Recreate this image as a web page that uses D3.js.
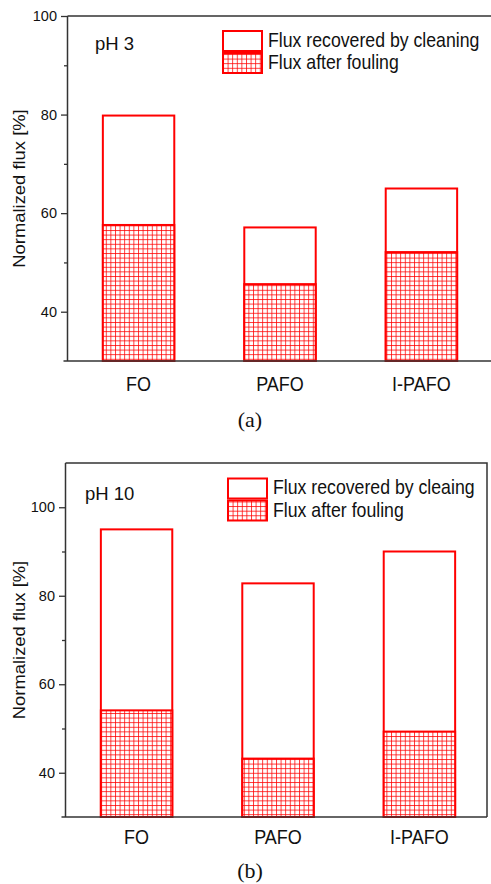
<!DOCTYPE html>
<html>
<head>
<meta charset="utf-8">
<script src="https://cdn.jsdelivr.net/npm/d3@7"></script>
<style>
  body { margin: 0; background: #fff; }
  text { font-family: "Liberation Sans", Arial, sans-serif; fill: #111; }
</style>
</head>
<body>
<svg id="chart" width="491" height="884"></svg>
<script>
// values
const categories = ["FO", "PAFO", "I-PAFO"];
const recoveredA = [79.8, 57.1, 65.0];
const foulingA = [57.6, 45.6, 52.1];
const recoveredB = [95.0, 82.8, 90.0];
const foulingB = [54.1, 43.2, 49.3];
const legendA = ["Flux recovered by cleaning", "Flux after fouling"];
const legendB = ["Flux recovered by cleaing", "Flux after fouling"];
const majorTicks = [40, 60, 80, 100];
const minorTicks = [50, 70, 90];

const svg = d3.select("#chart");
const red = "#ff0000";

// crosshatch fill like the Origin pattern
const defs = svg.append("defs");
const pat = defs.append("pattern")
  .attr("id", "hatch")
  .attr("patternUnits", "userSpaceOnUse")
  .attr("width", 4.6).attr("height", 4.6);
pat.append("rect").attr("width", 4.6).attr("height", 4.6).attr("fill", "#fff");
pat.append("path")
  .attr("d", "M0,0.5H4.6M0.5,0V4.6")
  .attr("stroke", red).attr("stroke-width", 0.9).attr("stroke-opacity", 0.85);

const drawPanel = (opt) => {
  const g = svg.append("g");
  const y = d3.scaleLinear().domain(opt.domain).range([opt.bottom, opt.top]);
  const x = d3.scaleBand().domain(categories)
    .range([opt.left, opt.left + 425])
    .paddingInner(0.495).paddingOuter(0.25);

  // bars: white total first, hatched fouling part over it
  g.selectAll("rect.rec")
    .data(categories)
    .enter().append("rect")
      .attr("class", "rec")
      .attr("x", (d) => x(d))
      .attr("width", x.bandwidth())
      .attr("y", (d, i) => y(opt.recovered[i]))
      .attr("height", (d, i) => y(opt.domain[0]) - y(opt.recovered[i]))
      .attr("fill", "#fff").attr("stroke", red).attr("stroke-width", 2);

  g.selectAll("rect.foul")
    .data(categories)
    .enter().append("rect")
      .attr("class", "foul")
      .attr("x", (d) => x(d))
      .attr("width", x.bandwidth())
      .attr("y", (d, i) => y(opt.fouling[i]))
      .attr("height", (d, i) => y(opt.domain[0]) - y(opt.fouling[i]))
      .attr("fill", "url(#hatch)").attr("stroke", red).attr("stroke-width", 2);

  // frame
  const frame = g.append("g").attr("stroke", "#333").attr("stroke-width", 1.5).attr("fill", "none");
  frame.append("path").attr("d", `M${opt.left},${opt.top}V${opt.bottom}`);
  frame.append("path").attr("d", `M${opt.left - 4},${opt.bottom}H${opt.right}`);
  frame.append("path").attr("d", `M${opt.left},${opt.top}H${opt.right}V${opt.bottom}`);

  // y axis ticks
  const ax = g.append("g")
    .attr("transform", `translate(${opt.left},0)`)
    .call(d3.axisLeft(y).tickValues(majorTicks).tickSize(6.5).tickPadding(4).tickFormat(d3.format("d")));
  ax.select(".domain").remove();
  ax.selectAll(".tick line").attr("stroke", "#333").attr("stroke-width", 1.3);
  ax.selectAll(".tick text").style("font-size", "14.5px").attr("fill", "#111")
    .style("font-family", "'Liberation Sans', Arial, sans-serif");

  const mx = g.append("g")
    .attr("transform", `translate(${opt.left},0)`)
    .call(d3.axisLeft(y).tickValues(minorTicks).tickSize(3.5).tickFormat(""));
  mx.select(".domain").remove();
  mx.selectAll(".tick line").attr("stroke", "#333").attr("stroke-width", 1.3);

  // y label
  g.append("text")
    .attr("transform", `translate(24.5,${(opt.top + opt.bottom) / 2}) scale(1,1.15) rotate(-90)`)
    .attr("text-anchor", "middle")
    .style("font-size", "16px")
    .text("Normalized flux [%]");

  // category labels
  g.selectAll("text.cat")
    .data(categories)
    .enter().append("text")
      .attr("class", "cat")
      .attr("transform", (d) => `translate(${x(d) + x.bandwidth() / 2},${opt.catY}) scale(1,1.1)`)
      .attr("text-anchor", "middle")
      .style("font-size", "18px")
      .text((d) => d);

  // pH note
  g.append("text")
    .attr("x", opt.phX).attr("y", opt.phY)
    .style("font-size", "18.5px")
    .text(opt.ph);

  // legend
  const lg = g.append("g").attr("transform", `translate(${opt.legX},${opt.legY})`);
  lg.selectAll("rect")
    .data(opt.legend)
    .enter().append("rect")
      .attr("x", 0).attr("y", (d, i) => i * 22)
      .attr("width", 39).attr("height", 20)
      .attr("fill", (d, i) => i == 0 ? "#fff" : "url(#hatch)")
      .attr("stroke", red).attr("stroke-width", 2);
  lg.selectAll("text")
    .data(opt.legend)
    .enter().append("text")
      .attr("transform", (d, i) => `translate(45,${15.5 + i * 22.5}) scale(1,1.1)`)
      .style("font-size", "17.7px")
      .text((d) => d);

  // panel caption
  g.append("text")
    .attr("x", 250).attr("y", opt.capY)
    .attr("text-anchor", "middle")
    .style("font-family", "'Liberation Serif', 'Times New Roman', serif")
    .style("font-size", "22px")
    .text(opt.caption);
};

drawPanel({
  domain: [30, 100], top: 16, bottom: 361, left: 67.5, right: 494,
  recovered: recoveredA, fouling: foulingA, legend: legendA,
  ph: "pH 3", phX: 95, phY: 50, legX: 223, legY: 31,
  catY: 391, caption: "(a)", capY: 427
});

drawPanel({
  domain: [30, 110], top: 463, bottom: 817, left: 65.5, right: 487,
  recovered: recoveredB, fouling: foulingB, legend: legendB,
  ph: "pH 10", phX: 85, phY: 500, legX: 228, legY: 478.5,
  catY: 844, caption: "(b)", capY: 878
});
</script>
</body>
</html>
